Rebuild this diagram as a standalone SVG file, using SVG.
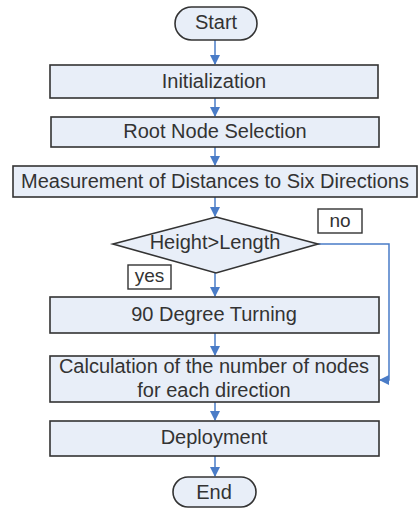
<svg xmlns="http://www.w3.org/2000/svg" width="418" height="510" viewBox="0 0 418 510">
<style>
.n{fill:#e8eef8;stroke:#333;stroke-width:1.6}
.l{fill:#fff;stroke:#333;stroke-width:1.4}
.t{font-family:"Liberation Sans",Arial,sans-serif;font-size:20px;fill:#333;text-anchor:middle}
.s{font-size:19px}
.c{fill:none;stroke:#4a7cc7;stroke-width:1.5}
</style>
<defs>
<marker id="a" markerWidth="10" markerHeight="10" refX="9" refY="5" orient="auto" markerUnits="userSpaceOnUse">
<path d="M0,0 L10,5 L0,10 z" fill="#4a7cc7"/>
</marker>
</defs>
<rect width="418" height="510" fill="#fff"/>
<g id="connectors">
<path class="c" d="M215,40 V64" marker-end="url(#a)"/>
<path class="c" d="M215,98 V116" marker-end="url(#a)"/>
<path class="c" d="M215,147 V165" marker-end="url(#a)"/>
<path class="c" d="M215,197 V216" marker-end="url(#a)"/>
<path class="c" d="M215,273 V296" marker-end="url(#a)"/>
<path class="c" d="M318,244 H389 V380 H380" marker-end="url(#a)"/>
<path class="c" d="M215,333 V355" marker-end="url(#a)"/>
<path class="c" d="M215,402 V420" marker-end="url(#a)"/>
<path class="c" d="M215,456 V476" marker-end="url(#a)"/>
</g>
<g id="start"><rect class="n" x="175" y="7" width="82" height="33" rx="16.5"/><text class="t" x="216" y="29">Start</text></g>
<g id="init"><rect class="n" x="50" y="65" width="328" height="33"/><text class="t" x="214" y="88">Initialization</text></g>
<g id="root"><rect class="n" x="51" y="117" width="328" height="30"/><text class="t" x="215" y="138">Root Node Selection</text></g>
<g id="measure"><rect class="n" x="13" y="166" width="404" height="31"/><text class="t" x="215" y="188">Measurement of Distances to Six Directions</text></g>
<g id="decision"><polygon class="n" points="216,217 318,244 216,273 113,244"/><text class="t" x="215" y="249">Height&gt;Length</text></g>
<g id="no"><rect class="l" x="318" y="209" width="44" height="24"/><text class="t s" x="340" y="227">no</text></g>
<g id="yes"><rect class="l" x="128" y="265" width="43" height="24"/><text class="t s" x="149.5" y="282">yes</text></g>
<g id="turn"><rect class="n" x="50" y="297" width="329" height="36"/><text class="t" x="214" y="321">90 Degree Turning</text></g>
<g id="calc"><rect class="n" x="50" y="356" width="329" height="46"/><text class="t" x="214" y="373">Calculation of the number of nodes</text><text class="t" x="214" y="397">for each direction</text></g>
<g id="deploy"><rect class="n" x="50" y="421" width="329" height="35"/><text class="t" x="214" y="444">Deployment</text></g>
<g id="end"><rect class="n" x="173" y="477" width="83" height="30" rx="15"/><text class="t" x="214" y="499">End</text></g>
</svg>
